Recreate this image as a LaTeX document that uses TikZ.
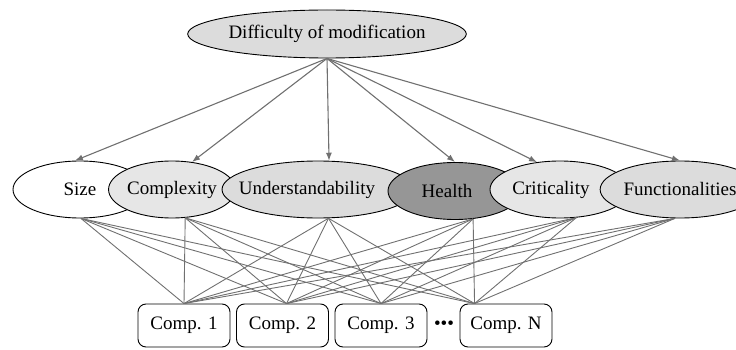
\documentclass[tikz,border=0pt]{standalone}
\usepackage{fontspec}
\setmainfont{Liberation Serif}
\usetikzlibrary{shapes.geometric,arrows.meta,calc}

\definecolor{linkgray}{HTML}{707070}
\definecolor{paleA}{HTML}{DCDCDC}
\definecolor{paleB}{HTML}{E6E6E6}
\definecolor{darkfill}{HTML}{969696}

\tikzset{
  factor/.style={ellipse, draw=black, line width=0.9pt, inner sep=0pt,
                 minimum height=57pt, font=\fontsize{19}{22}\selectfont},
  compbox/.style={rectangle, rounded corners=8pt, draw=black, line width=0.9pt,
                  minimum width=92pt, minimum height=43pt, inner sep=0pt,
                  font=\fontsize{19}{22}\selectfont},
  influence/.style={draw=linkgray, line width=1.1pt,
                    -{Latex[length=8pt,width=6pt]}},
  link/.style={draw=linkgray, line width=0.9pt}
}

\begin{document}
\begin{tikzpicture}[x=1pt,y=-1pt]
\useasboundingbox (0,0) rectangle (736,350);

% goal at the top
\node[factor, fill=paleA, minimum width=234pt, minimum height=48pt] (goal) at (327,34)
  {Difficulty of modification};

% factor row, drawn left to right so each overlaps its left neighbour
\node[factor, fill=white, minimum width=134pt] (size) at (80,189.5) {Size};
\node[factor, fill=paleB, minimum width=124pt] (cplx) at (172,189.5) {Complexity};
\node[factor, fill=paleA, minimum width=192pt] (undr) at (318,189.5) {\hspace*{-22pt}Understandability};
\node[factor, fill=darkfill, minimum width=134pt] (hlth) at (455,191) {\hspace*{-16pt}Health};
\node[factor, fill=paleB, minimum width=140pt] (crit) at (560,189.5) {\hspace*{-18pt}Criticality};
\node[factor, fill=paleA, minimum width=150pt] (func) at (680,189.5) {Functionalities};

% components
\node[compbox] (c1) at (184,325.5) {Comp. 1};
\node[compbox] (c2) at (282.5,325.5) {Comp. 2};
\node[compbox] (c3) at (381,325.5) {Comp. 3};
\node[compbox] (cn) at (506,325.5) {Comp. N};
\node[inner sep=0pt, font=\fontsize{19}{22}\selectfont] (dots) at (444,325)
  {\textbullet\textbullet\textbullet};

% attachment points
\coordinate (c1in) at (c1.north);
\coordinate (c2in) at ($(c2.north)+(4,0)$);
\coordinate (c3in) at (c3.north);
\coordinate (cnin) at ($(cn.north west)+(15,0)$);

% goal -> factors
\draw[influence] (goal.south) -- (size.100);
\draw[influence] (goal.south) -- (cplx.54);
\draw[influence] (goal.south) -- (undr.69);
\draw[influence] (goal.south) -- (hlth.north);
\draw[influence] (goal.south) -- (crit.130);
\draw[influence] (goal.south) -- (func.north);

% factors -> components
\foreach \f/\a in {size/-88, cplx/-65, undr/-70, hlth/-57, crit/-60, func/-100} {
  \foreach \c in {c1in, c2in, c3in, cnin} {
    \draw[link] (\f.\a) -- (\c);
  }
}
\end{tikzpicture}
\end{document}
